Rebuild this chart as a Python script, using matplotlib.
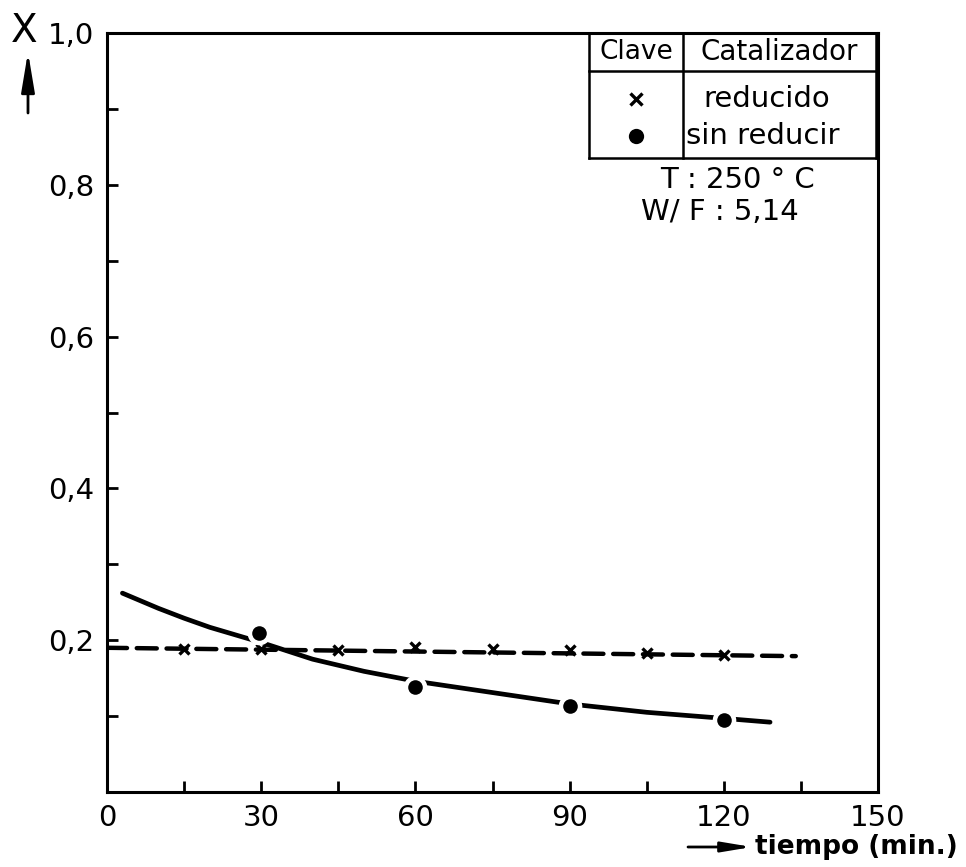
import numpy as np
import matplotlib
matplotlib.use("Agg")
import matplotlib.pyplot as plt
from matplotlib.lines import Line2D
from matplotlib.patches import FancyArrowPatch

plt.rcParams['font.family'] = ['DejaVu Sans']

# catalizador reducido (x markers) and fitted dashed line
t_red = [15, 30, 45, 60, 75, 90, 105, 120]
x_red = [0.189, 0.188, 0.187, 0.191, 0.188, 0.187, 0.183, 0.180]
t_red_line = [0, 134]
x_red_line = [0.190, 0.179]

# catalizador sin reducir (dots) and fitted solid curve
t_sin = [29.6, 60, 90, 120]
x_sin = [0.210, 0.138, 0.113, 0.095]
t_sin_curve = [3, 10, 15, 20, 30, 40, 50, 60, 75, 90, 105, 120, 129]
x_sin_curve = [0.262, 0.242, 0.229, 0.217, 0.197, 0.175, 0.159, 0.146,
               0.131, 0.116, 0.105, 0.097, 0.092]

x_ticks = [0, 30, 60, 90, 120, 150]
y_ticks = [0.2, 0.4, 0.6, 0.8, 1.0]
y_tick_labels = ['0,2', '0,4', '0,6', '0,8', '1,0']

fig = plt.figure(figsize=(9.66, 8.67), dpi=100)
ax = fig.add_axes([107 / 966, 75 / 867, 771 / 966, 759 / 867])

ax.plot(t_red_line, x_red_line, color='black', lw=3.2, ls=(0, (4.5, 2.2)),
        dash_capstyle='round')
ax.plot(t_red, x_red, ls='none', marker='x', ms=7.5, mew=2.4, color='black')

ax.plot(t_sin_curve, x_sin_curve, color='black', lw=3.4, solid_capstyle='round')
ax.plot(t_sin, x_sin, ls='none', marker='o', ms=17, color='white', mew=0)
ax.plot(t_sin, x_sin, ls='none', marker='o', ms=10.5, color='black', mew=0)

ax.set_xlim(0, 149.3)
ax.set_ylim(0, 1.0)
ax.set_xticks(x_ticks)
ax.set_xticklabels([str(v) for v in x_ticks])
ax.set_xticks(np.arange(15, 150, 30), minor=True)
ax.set_yticks(y_ticks)
ax.set_yticklabels(y_tick_labels)
ax.set_yticks([0.1, 0.3, 0.5, 0.7, 0.9], minor=True)
ax.tick_params(which='both', direction='in', length=8, width=2, labelsize=21,
               pad=9)
for s in ax.spines.values():
    s.set_linewidth(2.2)

# legend table in the upper right corner
tr = ax.transAxes
xl, xm, xr = 0.625, 0.747, 0.997
yt, yh, yb = 1.0, 0.950, 0.835
for xs, ys in [([xl, xr], [yt, yt]), ([xl, xr], [yh, yh]), ([xl, xr], [yb, yb]),
               ([xl, xl], [yt, yb]), ([xm, xm], [yt, yb]), ([xr, xr], [yt, yb])]:
    ax.add_line(Line2D(xs, ys, transform=tr, color='black', lw=1.8, clip_on=False))

ax.text(0.686, 0.975, 'Clave', transform=tr, ha='center', va='center', fontsize=19)
ax.text(0.872, 0.975, 'Catalizador', transform=tr, ha='center', va='center', fontsize=20)
ax.plot([0.686], [0.913], transform=tr, marker='x', ms=8, mew=2.4, color='black')
ax.text(0.856, 0.913, 'reducido', transform=tr, ha='center', va='center', fontsize=21)
ax.plot([0.686], [0.864], transform=tr, marker='o', ms=11, mew=0, color='black')
ax.text(0.751, 0.864, 'sin reducir', transform=tr, ha='left', va='center', fontsize=21)
ax.text(0.818, 0.806, 'T : 250 ° C', transform=tr, ha='center', va='center', fontsize=21)
ax.text(0.795, 0.764, 'W/ F : 5,14', transform=tr, ha='center', va='center', fontsize=21)

# axis labels with arrows
fig.text(24 / 966, 1 - 31 / 867, 'X', ha='center', va='center', fontsize=28)
fig.add_artist(FancyArrowPatch(
    (28 / 966, 1 - 113 / 867), (28 / 966, 1 - 52 / 867), transform=fig.transFigure,
    arrowstyle='-|>,head_length=24,head_width=4', lw=2, color='black',
    mutation_scale=1, shrinkA=0, shrinkB=0))
fig.add_artist(FancyArrowPatch(
    (688 / 966, 1 - 847 / 867), (752 / 966, 1 - 847 / 867), transform=fig.transFigure,
    arrowstyle='-|>,head_length=18,head_width=3', lw=2, color='black',
    mutation_scale=1, shrinkA=0, shrinkB=0))
fig.text(755 / 966, 1 - 847 / 867, 'tiempo (min.)', ha='left', va='center',
         fontsize=19, fontweight='bold')

fig.savefig('out.png', dpi=100)
